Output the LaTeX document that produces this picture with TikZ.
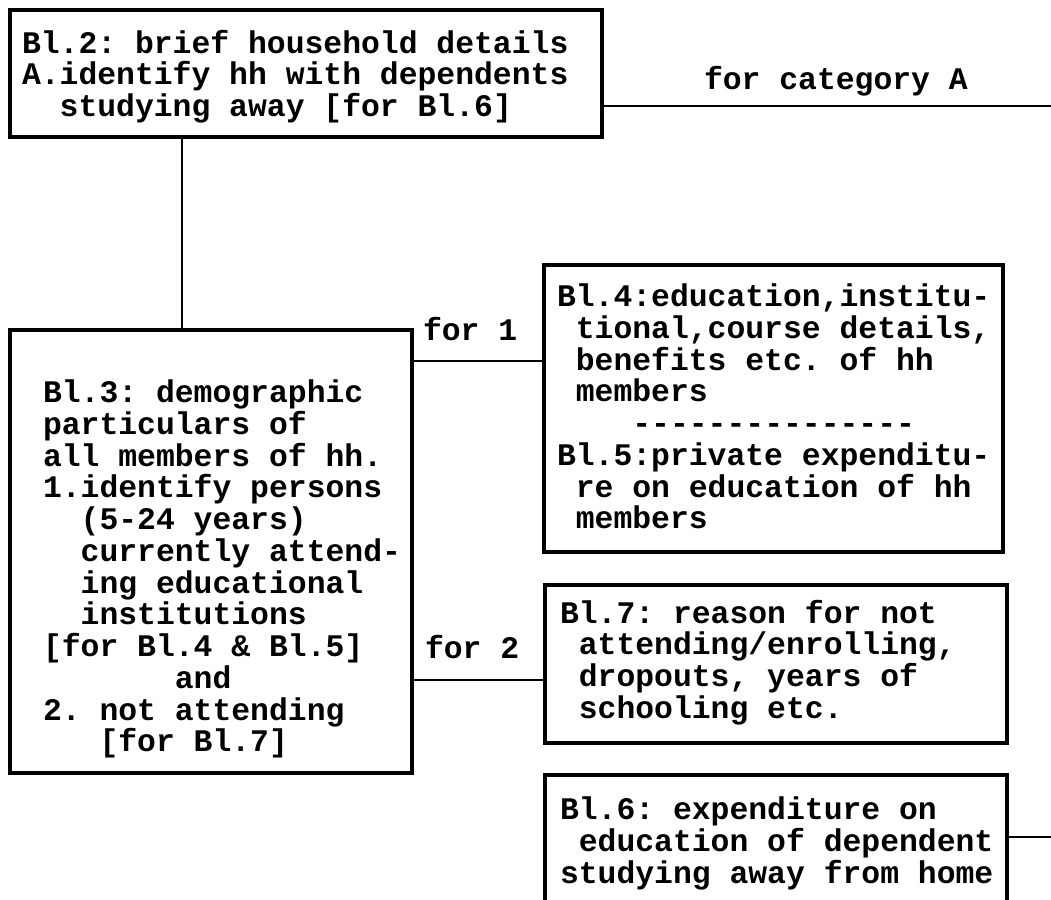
\documentclass[tikz,border=0pt]{standalone}
\usepackage{fontspec}
\setmonofont{Liberation Mono}
\newcommand\ind[1]{\hspace*{#1\fontdimen2\font}}
\begin{document}
\frenchspacing
\begin{tikzpicture}[x=0.75pt,y=-0.75pt,
  boxn/.style={draw, line width=2.5pt, inner sep=0pt, outer sep=0pt, anchor=north west},
  txt/.style={inner sep=0pt, outer sep=0pt, anchor=north west, align=left,
     font=\ttfamily\bfseries\fontsize{23.55pt}{23.8pt}\selectfont},
  conn/.style={line width=2pt}]
\useasboundingbox (0,0) rectangle (1051,900);
\clip (0,0) rectangle (1051,900);
% boxes
\node[boxn, minimum width=444pt, minimum height=95.25pt] (b2) at (10,10) {};
\node[boxn, minimum width=301.5pt, minimum height=332.25pt] (b3) at (10,330) {};
\node[boxn, minimum width=344.25pt, minimum height=215.25pt] (b4) at (544,265) {};
\node[boxn, minimum width=346.5pt, minimum height=118.5pt] (b7) at (545,585) {};
\node[boxn, minimum width=346.5pt, minimum height=120pt] (b6) at (545,775) {};
% texts
\node[txt] (b2t) at (22,30) {Bl.2: brief household details\\A.identify hh with dependents\\\ind{2}studying away [for Bl.6]};
\node[txt] (b3t) at (43,380) {Bl.3: demographic\\particulars of\\all members of hh.\\1.identify persons\\\ind{2}(5-24 years)\\\ind{2}currently attend-\\\ind{2}ing educational\\\ind{2}institutions\\{}[for Bl.4 \& Bl.5]\\\ind{7}and\\2. not attending\\\ind{3}[for Bl.7]};
\node[txt] (b4t) at (557,284) {Bl.4:education,institu-\\\ind{1}tional,course details,\\\ind{1}benefits etc. of hh\\\ind{1}members\\\ind{4}---------------\\Bl.5:private expenditu-\\\ind{1}re on education of hh\\\ind{1}members};
\node[txt] (b7t) at (560,600) {Bl.7: reason for not\\\ind{1}attending/enrolling,\\\ind{1}dropouts, years of\\\ind{1}schooling etc.};
\node[txt] (b6t) at (560,797) {Bl.6: expenditure on\\\ind{1}education of dependent\\studying away from home};
% labels
\node[txt] (l1) at (423,317) {for 1};
\node[txt] (l2) at (425,635) {for 2};
\node[txt] (lA) at (704,66) {for category A};
% connectors
\coordinate (ra) at (1051,106);
\coordinate (rb) at (1051,837);
\coordinate (y1) at (0,361);
\coordinate (y2) at (0,680);
\draw[conn] (b2.east |- ra) -- (ra);
\draw[conn] ([xshift=129pt]b2.south west) -- ([xshift=129pt]b3.north west);
\draw[conn] (b3.east |- y1) -- (b4.west |- y1);
\draw[conn] (b3.east |- y2) -- (b7.west |- y2);
\draw[conn] (b6.east |- rb) -- (rb);
\end{tikzpicture}
\end{document}
